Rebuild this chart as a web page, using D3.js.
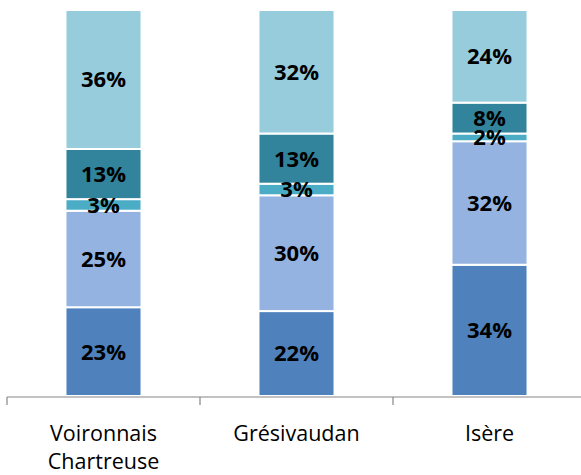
<!DOCTYPE html>
<html><head><meta charset="utf-8">
<script src="https://cdn.jsdelivr.net/npm/d3@7"></script>
<style>body{margin:0;background:#fff}svg{display:block}</style>
</head><body>
<svg id="c" width="581" height="475"></svg>
<script>
const categories = [["Voironnais", "Chartreuse"], ["Grésivaudan"], ["Isère"]];
const seriesNames = ["s1", "s2", "s3", "s4", "s5"];
const s1 = [23, 22, 34];
const s2 = [25, 30, 32];
const s3 = [3, 3, 2];
const s4 = [13, 13, 8];
const s5 = [36, 32, 24];
const colors = ["#4F81BD", "#95B3E0", "#4BACC6", "#31849B", "#96CCDC"];

const svg = d3.select("#c");
const keys = categories.map(c => c.join(" "));
const rows = keys.map((k, i) => ({key: k, s1: s1[i], s2: s2[i], s3: s3[i], s4: s4[i], s5: s5[i]}));
const stack = d3.stack().keys(seriesNames)(rows);

const x = d3.scaleBand().domain(keys).range([7, 586]).paddingInner(0.606).paddingOuter(0.303);
const y = d3.scaleLinear().domain([0, 100]).range([396, 10]);

stack.forEach((layer, li) => {
  const g = svg.append("g");
  g.selectAll("rect").data(layer).join("rect")
    .attr("x", d => x(d.data.key))
    .attr("width", x.bandwidth())
    .attr("y", d => y(d[1]))
    .attr("height", d => y(d[0]) - y(d[1]))
    .attr("fill", colors[li])
    .attr("stroke", "#fff").attr("stroke-width", 2);
});
stack.forEach((layer, li) => {
  svg.append("g").selectAll("text").data(layer).join("text")
    .attr("x", d => x(d.data.key) + x.bandwidth() / 2)
    .attr("y", d => (y(d[0]) + y(d[1])) / 2)
    .attr("dy", "0.36em")
    .attr("text-anchor", "middle")
    .attr("font-family", "'Open Sans', sans-serif")
    .attr("font-weight", "bold")
    .attr("font-size", 22)
    .attr("fill", "#000")
    .text(d => (d[1] - d[0]) + "%");
});

// axis
const axisY = 397;
const ax = svg.append("g");
ax.append("line").attr("x1", x.range()[0]).attr("x2", 581).attr("y1", axisY).attr("y2", axisY)
  .attr("stroke", "#868686").attr("stroke-width", 1.2);
const tickXs = keys.map(k => x(k) - x.step() * x.paddingOuter());
ax.selectAll("line.t").data(tickXs).join("line").attr("class", "t")
  .attr("x1", d => d).attr("x2", d => d).attr("y1", axisY).attr("y2", axisY + 8)
  .attr("stroke", "#868686").attr("stroke-width", 1.2);

svg.append("g").selectAll("text").data(categories).join("text")
  .attr("text-anchor", "middle")
  .attr("font-family", "'Open Sans', sans-serif")
  .attr("font-size", 21.5)
  .attr("fill", "#000")
  .each(function(c, i) {
    const t = d3.select(this);
    c.forEach((line, j) => {
      t.append("tspan").attr("x", x(keys[i]) + x.bandwidth() / 2).attr("y", 441 + j * 28).text(line);
    });
  });
</script>
</body></html>
